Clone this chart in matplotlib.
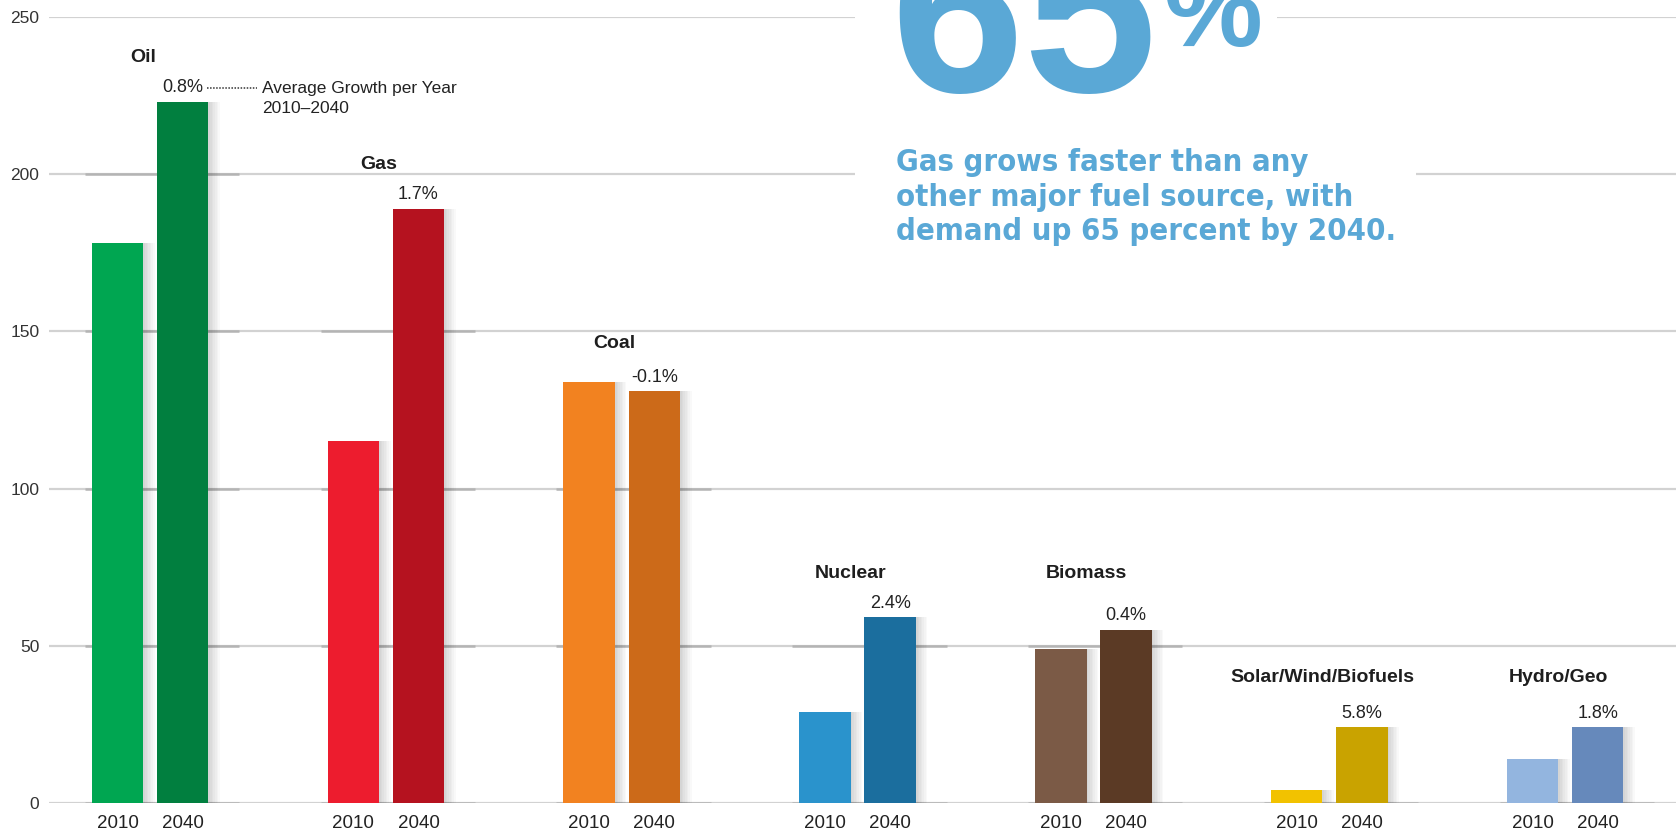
import matplotlib
matplotlib.use('Agg')
import matplotlib.pyplot as plt
from matplotlib import font_manager
from matplotlib.font_manager import FontProperties
from matplotlib.patches import Rectangle

# energy demand by fuel, 2010 vs 2040 (quadrillion BTUs)
fuels = ['Oil', 'Gas', 'Coal', 'Nuclear', 'Biomass', 'Solar/Wind/Biofuels', 'Hydro/Geo']
demand_2010 = [178, 115, 134, 29, 49, 4, 14]
demand_2040 = [223, 189, 131, 59, 55, 24, 24]
growth = ['0.8%', '1.7%', '-0.1%', '2.4%', '0.4%', '5.8%', '1.8%']
years = ['2010', '2040']

colors_2010 = ['#00a651', '#ed1c2e', '#f28220', '#2a93cc', '#7b5a46', '#f2c200', '#93b5df']
colors_2040 = ['#017f3f', '#b5121f', '#cc6a19', '#1b6e9e', '#5b3a25', '#c9a300', '#6689bb']

# layout: heights (data units) where the fuel names sit
label_y = [237, 203, 146, 73, 73, 40, 40]

plt.rcParams['font.family'] = ['Liberation Sans', 'DejaVu Sans']
blue = '#5aa8d6'


def condensed_bold():
    # look for a narrow / condensed bold face, else plain bold
    for f in font_manager.fontManager.ttflist:
        narrow = ('Narrow' in f.name or 'Condensed' in f.name
                  or f.stretch in ('condensed', 'semi-condensed', 'extra-condensed'))
        if narrow and str(f.weight) in ('bold', '700'):
            return FontProperties(fname=f.fname)
    return FontProperties(family='Liberation Sans', weight='bold')


def fit_width(t, target_px):
    r = fig.canvas.get_renderer()
    wpx = t.get_window_extent(r).width
    t.set_fontsize(t.get_fontsize() * target_px / wpx)


fig = plt.figure(figsize=(16.76, 8.36), dpi=100)
ax = fig.add_axes([0.0293, 0.0396, 0.9707, 0.94])

off = 0.138
w = 0.218
x = list(range(len(fuels)))
x10 = [i - off for i in x]
x40 = [i + off for i in x]

ax.set_xlim(-0.428, 6.47)
ax.set_ylim(0, 250)

# gridlines + slightly darker segment around each group
levels = [0, 50, 100, 150, 200, 250]
for lv in levels:
    ax.axhline(lv, color='#d2d2d2', lw=1.6, zorder=1)
    for i in x:
        if lv < max(demand_2010[i], demand_2040[i]):
            ax.hlines(lv, x10[i] - w / 2 - 0.03, x40[i] + w / 2 + 0.13,
                      color='#b4b4b4', lw=1.8, zorder=1.5)

# soft shadows to the right of bars
for k in range(1, 8):
    ax.bar([v + k * 0.007 for v in x10], demand_2010, width=w, color='black',
           alpha=0.025, zorder=2, linewidth=0)
    ax.bar([v + k * 0.007 for v in x40], demand_2040, width=w, color='black',
           alpha=0.025, zorder=2, linewidth=0)

ax.bar(x10, demand_2010, width=w, color=colors_2010, zorder=3, linewidth=0)
ax.bar(x40, demand_2040, width=w, color=colors_2040, zorder=3, linewidth=0)

for i in x:
    ax.annotate(growth[i], (x40[i], demand_2040[i]), xytext=(0, 4),
                textcoords='offset points', ha='center', va='bottom',
                fontsize=13, color='#222222', zorder=5)
    ax.text(i - 0.03, label_y[i], fuels[i], ha='center', va='center',
            fontsize=14, fontweight='bold', color='#1e1e1e', zorder=5)

# note beside the oil growth figure
ax.plot([0.24, 0.455], [227.5, 227.5], ls=(0, (1, 1)), color='#333333', lw=1.1, zorder=5)
ax.text(0.474, 227.3, 'Average Growth per Year', ha='left', va='center',
        fontsize=12.5, color='#222222', zorder=5)
ax.text(0.474, 221.0, '2010\u20132040', ha='left', va='center',
        fontsize=12.5, color='#222222', zorder=5)

ax.set_xticks(x10 + x40)
ax.set_xticklabels([years[0]] * len(x) + [years[1]] * len(x), fontsize=13.5, color='#222222')
ax.set_yticks(levels)
ax.set_yticklabels([str(v) for v in levels], fontsize=12.5, color='#333333')
ax.tick_params(length=0)
ax.tick_params(axis='x', pad=9)
ax.tick_params(axis='y', pad=7)
for s in ax.spines.values():
    s.set_visible(False)

# white panel behind the callout so gridlines break around it
fig.patches.append(Rectangle((0.510, 0.86), 0.252, 0.14, transform=fig.transFigure,
                             facecolor='white', edgecolor='none', zorder=4))
fig.patches.append(Rectangle((0.510, 0.70), 0.335, 0.17, transform=fig.transFigure,
                             facecolor='white', edgecolor='none', zorder=4))

fig.text(0.531, 0.8905, '65', fontsize=173, fontweight='bold', color=blue,
         ha='left', va='baseline', zorder=6)
fig.text(0.694, 0.9455, '%', fontsize=80, fontweight='bold', color=blue,
         ha='left', va='baseline', zorder=6)

cfont = condensed_bold()
callout = ['Gas grows faster than any', 'other major fuel source, with',
           'demand up 65 percent by 2040.']
lines = []
for line, yb in zip(callout, [0.7955, 0.7535, 0.7135]):
    lines.append(fig.text(0.5344, yb, line, fontproperties=cfont, fontsize=24,
                          color=blue, ha='left', va='baseline', zorder=6))
# size the callout so the longest line spans the same width as the original
fit_width(lines[2], 499)
for t in lines[:2]:
    t.set_fontsize(lines[2].get_fontsize())

fig.savefig('out.png', dpi=100)
